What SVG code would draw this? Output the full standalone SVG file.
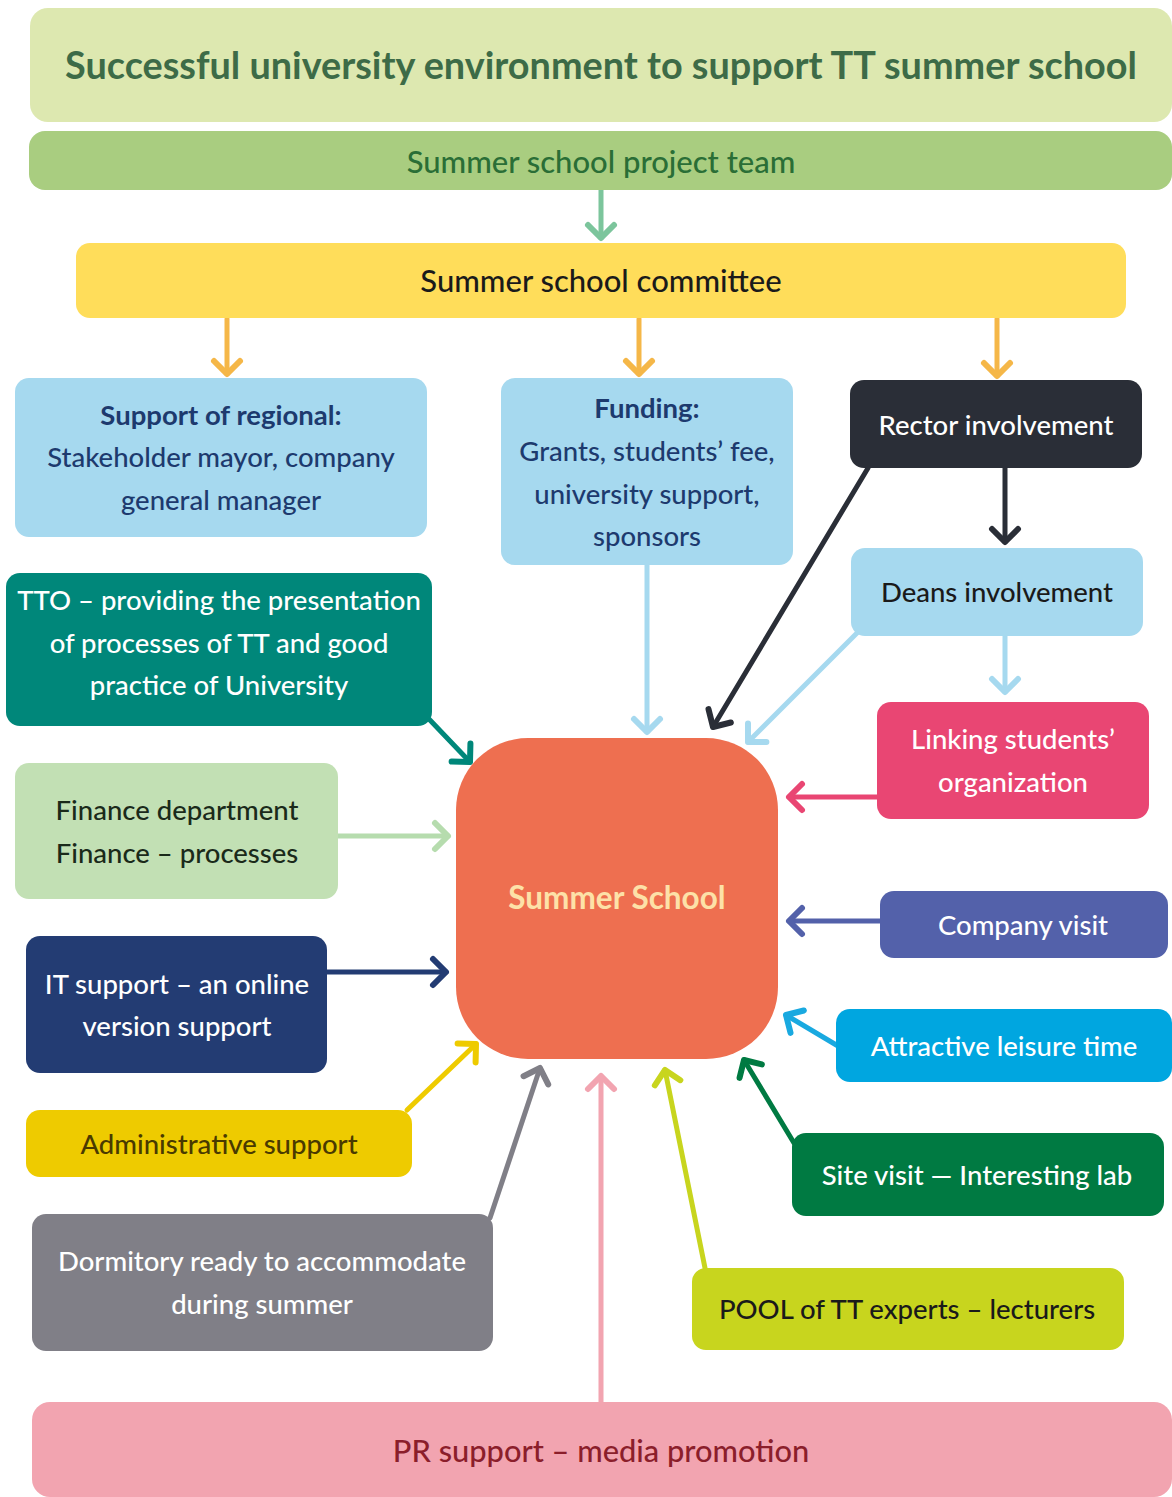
<svg xmlns="http://www.w3.org/2000/svg" width="1172" height="1497" viewBox="0 0 1172 1497">
<style>
text{font-family:Lato,"Open Sans","Liberation Sans",sans-serif;text-anchor:middle;font-size:27.5px;font-weight:500}
.b{font-weight:bold}
.w{fill:#ffffff}
.ln{fill:none;stroke-width:5;stroke-linecap:round}
</style>
<defs>
<marker id="m-green" markerUnits="userSpaceOnUse" markerWidth="40" markerHeight="40" viewBox="-20 -20 40 40" refX="0" refY="0" orient="auto"><path d="M-13,-13 L0,0 L-13,13" fill="none" stroke="#7cc59c" stroke-width="6" stroke-linecap="round" stroke-linejoin="round"/></marker>
<marker id="m-orange" markerUnits="userSpaceOnUse" markerWidth="40" markerHeight="40" viewBox="-20 -20 40 40" refX="0" refY="0" orient="auto"><path d="M-13,-13 L0,0 L-13,13" fill="none" stroke="#f5b748" stroke-width="6" stroke-linecap="round" stroke-linejoin="round"/></marker>
<marker id="m-dark" markerUnits="userSpaceOnUse" markerWidth="40" markerHeight="40" viewBox="-20 -20 40 40" refX="0" refY="0" orient="auto"><path d="M-13,-13 L0,0 L-13,13" fill="none" stroke="#2a2e37" stroke-width="6" stroke-linecap="round" stroke-linejoin="round"/></marker>
<marker id="m-lblue" markerUnits="userSpaceOnUse" markerWidth="40" markerHeight="40" viewBox="-20 -20 40 40" refX="0" refY="0" orient="auto"><path d="M-13,-13 L0,0 L-13,13" fill="none" stroke="#a6d9ef" stroke-width="6" stroke-linecap="round" stroke-linejoin="round"/></marker>
<marker id="m-pink" markerUnits="userSpaceOnUse" markerWidth="40" markerHeight="40" viewBox="-20 -20 40 40" refX="0" refY="0" orient="auto"><path d="M-13,-13 L0,0 L-13,13" fill="none" stroke="#e94673" stroke-width="6" stroke-linecap="round" stroke-linejoin="round"/></marker>
<marker id="m-purple" markerUnits="userSpaceOnUse" markerWidth="40" markerHeight="40" viewBox="-20 -20 40 40" refX="0" refY="0" orient="auto"><path d="M-13,-13 L0,0 L-13,13" fill="none" stroke="#5361aa" stroke-width="6" stroke-linecap="round" stroke-linejoin="round"/></marker>
<marker id="m-cyan" markerUnits="userSpaceOnUse" markerWidth="40" markerHeight="40" viewBox="-20 -20 40 40" refX="0" refY="0" orient="auto"><path d="M-13,-13 L0,0 L-13,13" fill="none" stroke="#19a9e0" stroke-width="6" stroke-linecap="round" stroke-linejoin="round"/></marker>
<marker id="m-dgreen" markerUnits="userSpaceOnUse" markerWidth="40" markerHeight="40" viewBox="-20 -20 40 40" refX="0" refY="0" orient="auto"><path d="M-13,-13 L0,0 L-13,13" fill="none" stroke="#007a42" stroke-width="6" stroke-linecap="round" stroke-linejoin="round"/></marker>
<marker id="m-lime" markerUnits="userSpaceOnUse" markerWidth="40" markerHeight="40" viewBox="-20 -20 40 40" refX="0" refY="0" orient="auto"><path d="M-13,-13 L0,0 L-13,13" fill="none" stroke="#c8d51e" stroke-width="6" stroke-linecap="round" stroke-linejoin="round"/></marker>
<marker id="m-lpink" markerUnits="userSpaceOnUse" markerWidth="40" markerHeight="40" viewBox="-20 -20 40 40" refX="0" refY="0" orient="auto"><path d="M-13,-13 L0,0 L-13,13" fill="none" stroke="#f2a4b0" stroke-width="6" stroke-linecap="round" stroke-linejoin="round"/></marker>
<marker id="m-gray" markerUnits="userSpaceOnUse" markerWidth="40" markerHeight="40" viewBox="-20 -20 40 40" refX="0" refY="0" orient="auto"><path d="M-13,-13 L0,0 L-13,13" fill="none" stroke="#807f87" stroke-width="6" stroke-linecap="round" stroke-linejoin="round"/></marker>
<marker id="m-yellow" markerUnits="userSpaceOnUse" markerWidth="40" markerHeight="40" viewBox="-20 -20 40 40" refX="0" refY="0" orient="auto"><path d="M-13,-13 L0,0 L-13,13" fill="none" stroke="#eecb00" stroke-width="6" stroke-linecap="round" stroke-linejoin="round"/></marker>
<marker id="m-navy" markerUnits="userSpaceOnUse" markerWidth="40" markerHeight="40" viewBox="-20 -20 40 40" refX="0" refY="0" orient="auto"><path d="M-13,-13 L0,0 L-13,13" fill="none" stroke="#233c73" stroke-width="6" stroke-linecap="round" stroke-linejoin="round"/></marker>
<marker id="m-lgreen" markerUnits="userSpaceOnUse" markerWidth="40" markerHeight="40" viewBox="-20 -20 40 40" refX="0" refY="0" orient="auto"><path d="M-13,-13 L0,0 L-13,13" fill="none" stroke="#b6dcae" stroke-width="6" stroke-linecap="round" stroke-linejoin="round"/></marker>
<marker id="m-teal" markerUnits="userSpaceOnUse" markerWidth="40" markerHeight="40" viewBox="-20 -20 40 40" refX="0" refY="0" orient="auto"><path d="M-13,-13 L0,0 L-13,13" fill="none" stroke="#00877a" stroke-width="6" stroke-linecap="round" stroke-linejoin="round"/></marker>
</defs>
<rect width="1172" height="1497" fill="#ffffff"/>

<g id="connectors">
<line class="ln" x1="601" y1="190" x2="601" y2="238" stroke="#7cc59c" marker-end="url(#m-green)"/>
<line class="ln" x1="227" y1="319" x2="227" y2="374" stroke="#f5b748" marker-end="url(#m-orange)"/>
<line class="ln" x1="639" y1="319" x2="639" y2="374" stroke="#f5b748" marker-end="url(#m-orange)"/>
<line class="ln" x1="997" y1="319" x2="997" y2="376" stroke="#f5b748" marker-end="url(#m-orange)"/>
<line class="ln" x1="1005" y1="468" x2="1005" y2="542" stroke="#2a2e37" marker-end="url(#m-dark)"/>
<line class="ln" x1="1005" y1="636" x2="1005" y2="692" stroke="#a6d9ef" marker-end="url(#m-lblue)"/>
<line class="ln" x1="647" y1="565" x2="647" y2="732" stroke="#a6d9ef" marker-end="url(#m-lblue)"/>
<line class="ln" x1="868" y1="468" x2="713" y2="727" stroke="#2a2e37" marker-end="url(#m-dark)"/>
<line class="ln" x1="858" y1="632" x2="748" y2="742" stroke="#a6d9ef" marker-end="url(#m-lblue)"/>
<line class="ln" x1="877" y1="797" x2="789" y2="797" stroke="#e94673" marker-end="url(#m-pink)"/>
<line class="ln" x1="880" y1="921" x2="789" y2="921" stroke="#5361aa" marker-end="url(#m-purple)"/>
<line class="ln" x1="838" y1="1046" x2="786" y2="1015" stroke="#19a9e0" marker-end="url(#m-cyan)"/>
<line class="ln" x1="794" y1="1143" x2="744" y2="1060" stroke="#007a42" marker-end="url(#m-dgreen)"/>
<line class="ln" x1="705" y1="1268" x2="665" y2="1070" stroke="#c8d51e" marker-end="url(#m-lime)"/>
<line class="ln" x1="601" y1="1402" x2="601" y2="1076" stroke="#f2a4b0" marker-end="url(#m-lpink)"/>
<line class="ln" x1="490" y1="1218" x2="540" y2="1068" stroke="#807f87" marker-end="url(#m-gray)"/>
<line class="ln" x1="407" y1="1110" x2="476" y2="1044" stroke="#eecb00" marker-end="url(#m-yellow)"/>
<line class="ln" x1="327" y1="972" x2="446" y2="972" stroke="#233c73" marker-end="url(#m-navy)"/>
<line class="ln" x1="338" y1="836" x2="448" y2="836" stroke="#b6dcae" marker-end="url(#m-lgreen)"/>
<line class="ln" x1="428" y1="718" x2="470" y2="762" stroke="#00877a" marker-end="url(#m-teal)"/>
</g>

<g id="title"><rect x="30" y="8" width="1142" height="114" rx="18" fill="#dde8b0"/>
<text x="601" y="79" class="b" style="font-size:37.8px" fill="#3d6b47">Successful university environment to support TT summer school</text></g>

<g id="project-team"><rect x="29" y="131" width="1143" height="59" rx="16" fill="#a9cd80"/>
<text x="601" y="173" style="font-size:31px" fill="#2a6e36">Summer school project team</text></g>

<g id="committee"><rect x="76" y="243" width="1050" height="75" rx="14" fill="#ffdd5a"/>
<text x="601" y="292" style="font-size:31px" fill="#1a1a1a">Summer school committee</text></g>

<g id="regional"><rect x="15" y="378" width="412" height="159" rx="14" fill="#a6d9ef"/>
<text x="221" y="425" class="b" fill="#1d3a6e">Support of regional:</text>
<text x="221" y="467" fill="#1d3a6e">Stakeholder mayor, company</text>
<text x="221" y="510" fill="#1d3a6e">general manager</text></g>

<g id="funding"><rect x="501" y="378" width="292" height="187" rx="14" fill="#a6d9ef"/>
<text x="647" y="418" class="b" fill="#1d3a6e">Funding:</text>
<text x="647" y="461" fill="#1d3a6e">Grants, students’ fee,</text>
<text x="647" y="504" fill="#1d3a6e">university support,</text>
<text x="647" y="546" fill="#1d3a6e">sponsors</text></g>

<g id="rector"><rect x="850" y="380" width="292" height="88" rx="14" fill="#2a2e37"/>
<text x="996" y="435" class="w">Rector involvement</text></g>

<g id="deans"><rect x="851" y="548" width="292" height="88" rx="14" fill="#a6d9ef"/>
<text x="997" y="602" fill="#1a1a1a">Deans involvement</text></g>

<g id="linking"><rect x="877" y="702" width="272" height="117" rx="14" fill="#e94673"/>
<text x="1013" y="749" class="w">Linking students’</text>
<text x="1013" y="792" class="w">organization</text></g>

<g id="company"><rect x="880" y="891" width="288" height="67" rx="14" fill="#5361aa"/>
<text x="1023" y="935" class="w">Company visit</text></g>

<g id="leisure"><rect x="836" y="1009" width="336" height="73" rx="14" fill="#00a6e0"/>
<text x="1004" y="1056" class="w">Attractive leisure time</text></g>

<g id="site"><rect x="792" y="1133" width="372" height="83" rx="14" fill="#007a42"/>
<text x="977" y="1185" class="w">Site visit — Interesting lab</text></g>

<g id="pool"><rect x="692" y="1268" width="432" height="82" rx="14" fill="#c8d51e"/>
<text x="907" y="1319" fill="#1a1a1a">POOL of TT experts – lecturers</text></g>

<g id="pr"><rect x="32" y="1402" width="1140" height="95" rx="18" fill="#f2a4b0"/>
<text x="601" y="1462" style="font-size:30.8px" fill="#8b1e2b">PR support – media promotion</text></g>

<g id="dormitory"><rect x="32" y="1214" width="461" height="137" rx="14" fill="#807f87"/>
<text x="262" y="1271" class="w">Dormitory ready to accommodate</text>
<text x="262" y="1314" class="w">during summer</text></g>

<g id="admin"><rect x="26" y="1110" width="386" height="67" rx="14" fill="#eecb00"/>
<text x="219" y="1154" fill="#4a3a00">Administrative support</text></g>

<g id="it"><rect x="26" y="936" width="301" height="137" rx="14" fill="#233c73"/>
<text x="177" y="994" class="w">IT support – an online</text>
<text x="177" y="1036" class="w">version support</text></g>

<g id="finance"><rect x="15" y="763" width="323" height="136" rx="14" fill="#c2e0b4"/>
<text x="177" y="820" fill="#1a2a1a">Finance department</text>
<text x="177" y="863" fill="#1a2a1a">Finance – processes</text></g>

<g id="tto"><rect x="6" y="573" width="426" height="153" rx="14" fill="#00877a"/>
<text x="219" y="610" class="w">TTO – providing the presentation</text>
<text x="219" y="653" class="w">of processes of TT and good</text>
<text x="219" y="695" class="w">practice of University</text></g>

<g id="summer-school"><rect x="456" y="738" width="322" height="321" rx="72" fill="#ee6f50"/>
<text x="617" y="909" class="b" style="font-size:31.5px" fill="#fde1a8">Summer School</text></g>
</svg>
